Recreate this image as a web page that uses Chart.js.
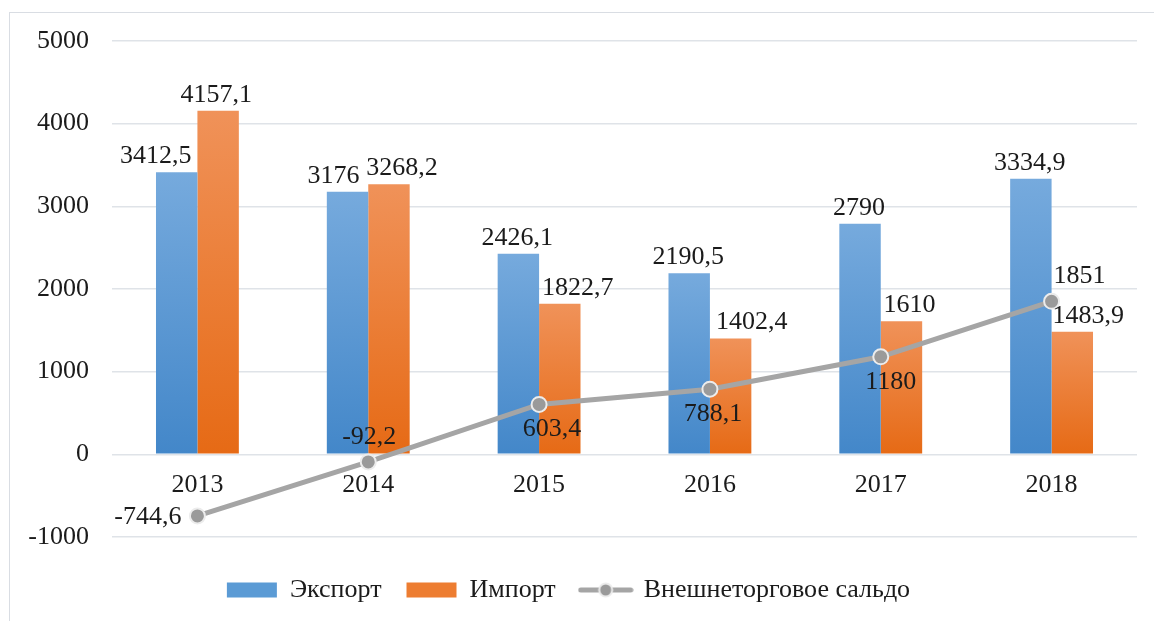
<!DOCTYPE html>
<html lang="ru">
<head>
<meta charset="utf-8">
<title>Экспорт, импорт и внешнеторговое сальдо</title>
<script src="https://cdn.jsdelivr.net/npm/chart.js@4.4.1/dist/chart.umd.min.js"></script>
<style>
    html, body { margin: 0; padding: 0; background: #fff; }
    #wrap { position: relative; width: 1154px; height: 621px; overflow: hidden; }
    #frame { position: absolute; left: 9px; top: 12px; width: 1170px; height: 650px; border: 1px solid #d9dde3; }
    #chart { position: absolute; left: 0; top: 0; }
</style>
</head>
<body>
<div id="wrap">
    <div id="frame"></div>
    <canvas id="chart" width="1154" height="621"></canvas>
</div>
<script>
// Export / import / trade balance, 2013-2018. Bars + line, Excel-like look.

const YEARS = ['2013', '2014', '2015', '2016', '2017', '2018'];
const EXPORT = [3412.5, 3176, 2426.1, 2190.5, 2790, 3334.9];
const IMPORT = [4157.1, 3268.2, 1822.7, 1402.4, 1610, 1483.9];
const SALDO = [-744.6, -92.2, 603.4, 788.1, 1180, 1851];
const Y_TICKS = [-1000, 0, 1000, 2000, 3000, 4000, 5000];

// label nudges (the original had a few labels dragged by hand)
const EXPORT_LABEL_DX = [-21, -14, -1, -1, -1, -1];
const IMPORT_LABEL_DX = [-2, 13, 18, 21, 8, 16];
const SALDO_LABEL_POS = ['left', 'above', 'below', 'below', 'below', 'above'];
const SALDO_LABEL_DX = [0, 1, 13, 3, 10, 28];

const FONT = 'Liberation Serif';
const TEXT = '#1b1b1b';
const BLUE = { top: '#76aadd', bottom: '#4387c9' };
const ORANGE = { top: '#f09259', bottom: '#e66a15' };
const LINE_GRAY = '#a5a5a5';
const POINT_GRAY = '#9a9a9a';

Chart.defaults.font.family = FONT;
Chart.defaults.color = TEXT;

function fmt(v) {
    return String(v).replace('.', ',');
}

function barGradient(c) {
    return ctx => {
        const chart = ctx.chart;
        if (ctx.type !== 'data' || !chart.chartArea) return c.bottom;
        const y = chart.scales.y;
        const y0 = y.getPixelForValue(0);
        const y1 = y.getPixelForValue(ctx.raw);
        if (!isFinite(y1) || y0 === y1) return c.bottom;
        const g = chart.ctx.createLinearGradient(0, y1, 0, y0);
        g.addColorStop(0, c.top);
        g.addColorStop(1, c.bottom);
        return g;
    };
}

let lineIconCache = null;
function lineIcon() {
    if (lineIconCache) return lineIconCache;
    const c = document.createElement('canvas');
    c.width = 56; c.height = 18;
    const g = c.getContext('2d');
    g.strokeStyle = LINE_GRAY;
    g.lineWidth = 5;
    g.lineCap = 'round';
    g.beginPath(); g.moveTo(3, 9); g.lineTo(53, 9); g.stroke();
    g.beginPath(); g.arc(28, 9, 6.5, 0, Math.PI * 2);
    g.fillStyle = POINT_GRAY; g.fill();
    g.lineWidth = 2; g.strokeStyle = '#ececec'; g.stroke();
    lineIconCache = c;
    return c;
}

// legend sits low under the plot; keep its box from eating the chart area
const legendHeight = {
    id: 'legendHeight',
    beforeLayout(chart) {
        const lg = chart.legend;
        if (!lg || lg._fixedFit) return;
        const fit = lg.fit;
        lg.fit = function () { fit.call(this); this.height = 84; };
        lg._fixedFit = true;
    }
};

const valueLabels = {
    id: 'valueLabels',
    afterDatasetsDraw(chart) {
        const ctx = chart.ctx;
        ctx.save();
        ctx.font = '26px "' + FONT + '"';
        ctx.fillStyle = TEXT;
        ctx.textBaseline = 'alphabetic';
        chart.data.datasets.forEach((ds, di) => {
            const meta = chart.getDatasetMeta(di);
            meta.data.forEach((el, i) => {
                const text = fmt(ds.data[i]);
                const dx = ds.labelDx ? ds.labelDx[i] : 0;
                if (ds.type === 'line') {
                    const pos = ds.labelPos[i];
                    if (pos === 'left') {
                        ctx.textAlign = 'right';
                        ctx.fillText(text, el.x - 16, el.y + 8);
                    } else {
                        ctx.textAlign = 'center';
                        ctx.fillText(text, el.x + dx, pos === 'above' ? el.y - 18 : el.y + 32);
                    }
                } else {
                    ctx.textAlign = 'center';
                    ctx.fillText(text, el.x + dx, el.y - 9);
                }
            });
        });
        ctx.restore();
    }
};

new Chart(document.getElementById('chart'), {
    type: 'bar',
    data: {
        labels: YEARS,
        datasets: [
            {
                label: 'Экспорт',
                data: EXPORT,
                backgroundColor: barGradient(BLUE),
                legendColor: '#5b9bd5',
                labelDx: EXPORT_LABEL_DX,
                order: 1
            },
            {
                label: 'Импорт',
                data: IMPORT,
                backgroundColor: barGradient(ORANGE),
                legendColor: '#ed7d31',
                labelDx: IMPORT_LABEL_DX,
                order: 1
            },
            {
                type: 'line',
                label: 'Внешнеторговое сальдо',
                data: SALDO,
                borderColor: LINE_GRAY,
                borderWidth: 5,
                borderCapStyle: 'round',
                pointRadius: 7.5,
                pointBackgroundColor: POINT_GRAY,
                pointBorderColor: '#ececec',
                pointBorderWidth: 2,
                legendColor: LINE_GRAY,
                labelPos: SALDO_LABEL_POS,
                labelDx: SALDO_LABEL_DX,
                order: 0
            }
        ]
    },
    options: {
        responsive: false,
        animation: false,
        layout: { padding: { top: 41, right: 17, bottom: 0, left: 0 } },
        datasets: { bar: { categoryPercentage: 0.485, barPercentage: 1 } },
        plugins: {
            tooltip: { enabled: false },
            legend: {
                position: 'bottom',
                // empty title only pushes the items down a bit
                title: { display: true, text: '', color: TEXT, font: { size: 5, lineHeight: 1 }, padding: 5 },
                labels: {
                    usePointStyle: true,
                    pointStyleWidth: 50,
                    boxHeight: 15,
                    padding: 25,
                    color: TEXT,
                    font: { size: 26 },
                    generateLabels: chart => chart.data.datasets.map((ds, i) => ({
                        text: ds.label,
                        fontColor: TEXT,
                        fillStyle: ds.legendColor,
                        strokeStyle: ds.legendColor,
                        lineWidth: 0,
                        pointStyle: ds.type === 'line' ? lineIcon() : 'rect',
                        hidden: false,
                        datasetIndex: i
                    }))
                }
            }
        },
        scales: {
            x: {
                position: { y: 0 },
                grid: { display: false, drawTicks: false },
                border: { display: false },
                ticks: { padding: 15, color: TEXT, font: { size: 26 } }
            },
            y: {
                min: Y_TICKS[0],
                max: Y_TICKS[Y_TICKS.length - 1],
                afterBuildTicks: s => { s.ticks = Y_TICKS.map(v => ({ value: v })); },
                afterFit: s => { s.width = 112; },
                grid: { color: '#dfe3e8', lineWidth: 1.5, drawTicks: false },
                border: { display: false },
                ticks: { padding: 23, color: TEXT, font: { size: 26 }, callback: v => String(v) }
            }
        }
    },
    plugins: [legendHeight, valueLabels]
});
</script>
</body>
</html>
